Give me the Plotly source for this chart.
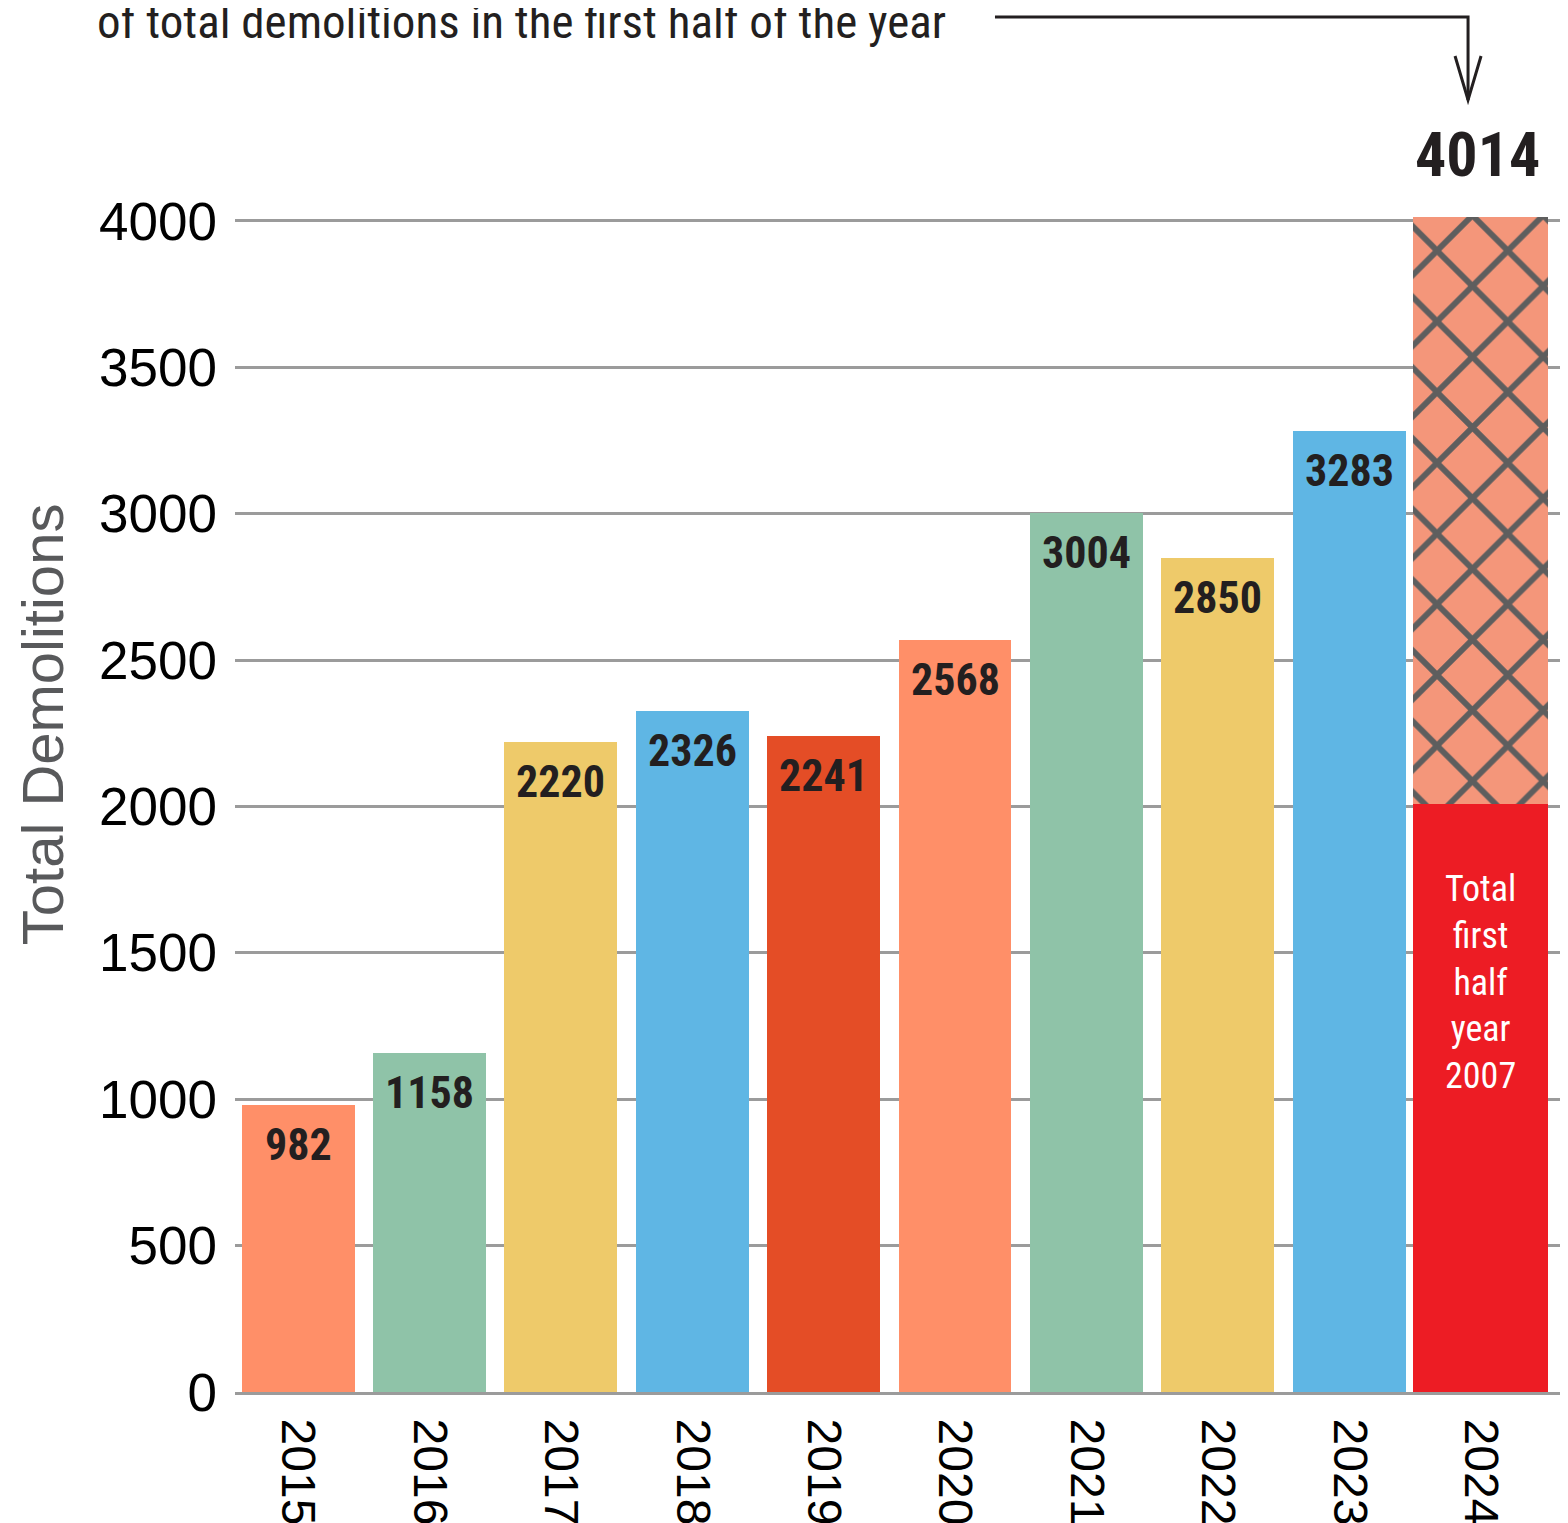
import plotly.graph_objects as go

years = ['2015', '2016', '2017', '2018', '2019', '2020', '2021', '2022', '2023', '2024']
totals = [982, 1158, 2220, 2326, 2241, 2568, 3004, 2850, 3283, 4014]
first_half_2024 = 2007
bar_colors = ['#FF8F68', '#8FC3A8', '#EECA6A', '#5FB6E4', '#E44D26',
              '#FF8F68', '#8FC3A8', '#EECA6A', '#5FB6E4']
y_ticks = [0, 500, 1000, 1500, 2000, 2500, 3000, 3500, 4000]
top_note = 'of total demolitions in the first half of the year'
inner_note = 'Total<br>first<br>half<br>year<br>' + str(first_half_2024)
y_title = 'Total Demolitions'

NARROW = 'Roboto Condensed, Liberation Sans Narrow, Arial Narrow, sans-serif'
SANS = 'Liberation Sans, Arial, sans-serif'

fig = go.Figure()
fig.add_trace(go.Bar(
    x=years[:-1], y=totals[:-1], marker=dict(color=bar_colors, line=dict(width=0)),
    width=0.86, hoverinfo='skip', showlegend=False))
fig.add_trace(go.Bar(
    x=[years[-1]], y=[first_half_2024], marker=dict(color='#ED1C24', line=dict(width=0)),
    width=1.03, hoverinfo='skip', showlegend=False))
fig.add_trace(go.Bar(
    x=[years[-1]], y=[totals[-1] - first_half_2024],
    marker=dict(color='#F4967A', line=dict(width=0),
                pattern=dict(shape='x', size=50, solidity=0.22, fgopacity=1,
                             fgcolor='#5E5E5E', bgcolor='#F4967A', fillmode='overlay')),
    width=1.03, hoverinfo='skip', showlegend=False))

annotations = []
for i, v in enumerate(totals[:-1]):
    annotations.append(dict(x=i, y=v, xref='x', yref='y', text=str(v), showarrow=False,
                            yanchor='top', yshift=-12,
                            font=dict(family=NARROW, size=44, color='#231F20', weight='bold')))
last = len(totals) - 1
annotations.append(dict(x=last, y=totals[-1], xref='x', yref='y', text=str(totals[-1]),
                        showarrow=False, yanchor='bottom', yshift=24, xshift=-3,
                        font=dict(family=NARROW, size=62, color='#231F20', weight='bold')))
annotations.append(dict(x=last, y=first_half_2024 * 0.697, xref='x', yref='y',
                        text=inner_note, showarrow=False, yanchor='middle',
                        font=dict(family=NARROW, size=36, color='white')))
annotations.append(dict(x=-0.1055, y=1.1305, xref='paper', yref='paper', text=top_note,
                        showarrow=False, xanchor='left', yanchor='middle',
                        font=dict(family=NARROW, size=47, color='#231F20')))
annotations.append(dict(x=-0.1454, y=0.551, xref='paper', yref='paper', text=y_title,
                        showarrow=False, xanchor='center', yanchor='middle', textangle=-90,
                        font=dict(family=SANS, size=58, color='#58595B')))

shapes = [
    dict(type='path', xref='paper', yref='paper',
         path='M 0.5727 1.1345 L 0.9292 1.1345 L 0.9292 1.066',
         line=dict(color='#231F20', width=3)),
    dict(type='path', xref='paper', yref='paper',
         path='M 0.9194 1.1023 L 0.9292 1.066 L 0.9390 1.1023',
         line=dict(color='#231F20', width=3)),
]

fig.update_layout(
    width=1568, height=1523,
    margin=dict(l=227, r=14, t=172, b=139, autoexpand=False),
    paper_bgcolor='white', plot_bgcolor='white',
    barmode='stack', bargap=0,
    annotations=annotations, shapes=shapes,
    xaxis=dict(type='category', range=[-0.48, 9.62], tickangle=90, automargin=False,
               tickfont=dict(family=SANS, size=48, color='black'),
               showgrid=False, showline=True, linecolor='#9B9B9B', linewidth=3,
               ticks='', ticklabelstandoff=14),
    yaxis=dict(range=[0, 4140], tickvals=y_ticks, ticktext=[str(t) for t in y_ticks],
               automargin=False,
               tickfont=dict(family=SANS, size=53, color='black'),
               showgrid=True, gridcolor='#9B9B9B', gridwidth=2.5,
               zeroline=False, showline=False, ticks='', ticklabelstandoff=17),
)

fig.write_html('out.html')
